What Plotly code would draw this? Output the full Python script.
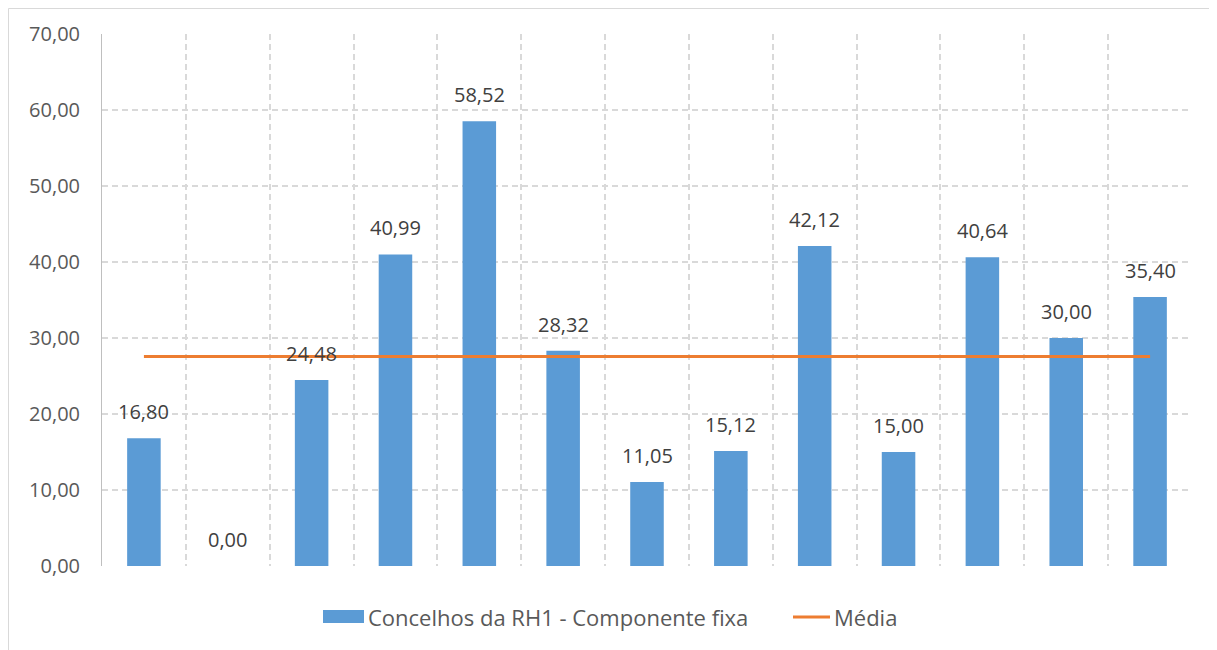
import plotly.graph_objects as go

categorias = list(range(13))
valores = [16.80, 0.00, 24.48, 40.99, 58.52, 28.32, 11.05, 15.12, 42.12, 15.00, 40.64, 30.00, 35.40]
media = 27.57
valores_media = [media] * len(categorias)
y_ticks = [0, 10, 20, 30, 40, 50, 60, 70]
nome_barras = "Concelhos da RH1 - Componente fixa"
nome_media = "Média"

# page body has an 8px margin, so figure coords = screen coords - 8
W, H = 1217, 650
ml, mr, mt, mb = 94, 33, 26, 92
pw, ph = W - ml - mr, H - mt - mb


def px(x):
    return (x - 8 - ml) / pw


def py(y):
    return (H - mb - (y - 8)) / ph


fig = go.Figure()
fig.add_trace(go.Bar(
    x=categorias, y=valores, name=nome_barras,
    marker=dict(color="#5b9bd5", line=dict(width=0)), width=0.4,
))
fig.add_trace(go.Scatter(
    x=categorias, y=valores_media, name=nome_media, mode="lines",
    line=dict(color="#ed7d31", width=3),
))

rotulos = [
    dict(x=c, y=v, xref="x", yref="y", text=f"{v:.2f}".replace(".", ","),
         showarrow=False, yanchor="bottom", yshift=11,
         font=dict(size=20, color="#404040"))
    for c, v in zip(categorias, valores)
]

fig.update_layout(
    width=W, height=H, separators=",.",
    margin=dict(l=ml, r=mr, t=mt, b=mb, autoexpand=False),
    plot_bgcolor="white", paper_bgcolor="white",
    font=dict(family="Open Sans", size=20, color="#595959"),
    showlegend=False,
    xaxis=dict(range=[-0.5, 12.5], tickvals=[i - 0.5 for i in range(14)],
               showticklabels=False, ticks="", showgrid=True, gridcolor="#d9d9d9",
               griddash="6px,4px", gridwidth=1.5, zeroline=False, showline=False,
               automargin=False),
    yaxis=dict(range=[0, 70], tickvals=y_ticks, tickformat=".2f",
               showgrid=True, gridcolor="#d9d9d9", griddash="6px,4px", gridwidth=1.5,
               zeroline=False, showline=True, linecolor="#bfbfbf", linewidth=1,
               ticks="", ticklabelstandoff=17, automargin=False,
               tickfont=dict(size=20, color="#595959")),
    shapes=[
        dict(type="rect", xref="paper", yref="paper",
             x0=px(8.5), x1=px(1240), y0=py(670), y1=py(8.5),
             line=dict(color="#d9d9d9", width=1), fillcolor="rgba(0,0,0,0)"),
        dict(type="rect", xref="paper", yref="paper",
             x0=px(323), x1=px(364), y0=py(623), y1=py(610),
             line=dict(width=0), fillcolor="#5b9bd5"),
        dict(type="line", xref="paper", yref="paper",
             x0=px(793), x1=px(830), y0=py(617), y1=py(617),
             line=dict(color="#ed7d31", width=3)),
    ],
    annotations=rotulos + [
        dict(xref="paper", yref="paper", x=px(366), y=py(617), xanchor="left",
             yanchor="middle", text=nome_barras, showarrow=False,
             font=dict(size=22, color="#595959")),
        dict(xref="paper", yref="paper", x=px(832), y=py(617), xanchor="left",
             yanchor="middle", text=nome_media, showarrow=False,
             font=dict(size=22, color="#595959")),
    ],
)

fig.write_html("out.html")
